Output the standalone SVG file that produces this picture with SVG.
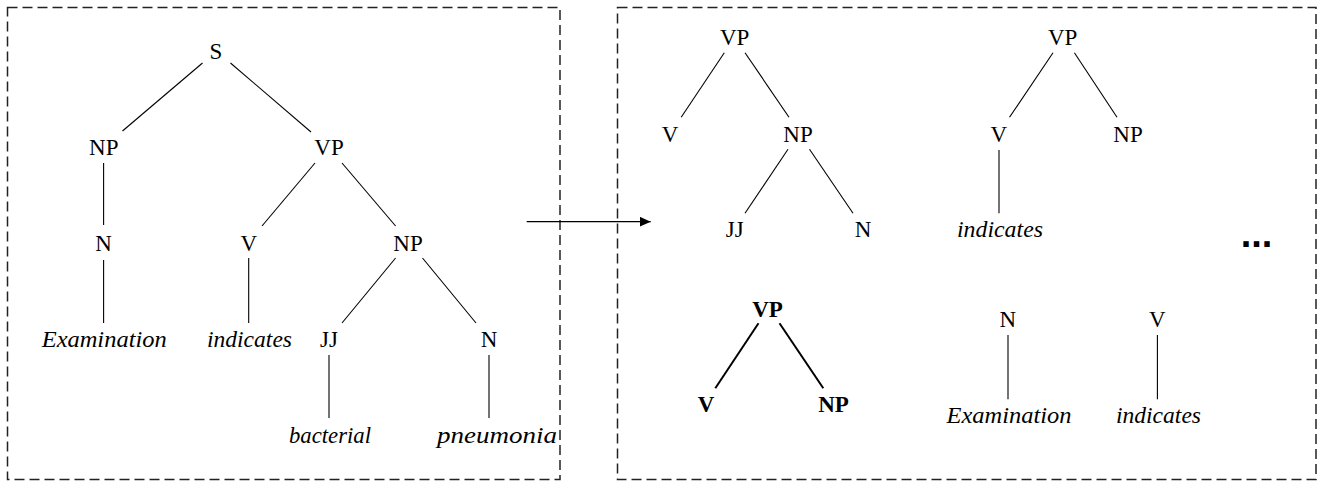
<svg xmlns="http://www.w3.org/2000/svg" width="1321" height="482" viewBox="0 0 1321 482">
<style>
text{font-family:"Liberation Serif","Times New Roman",serif;font-size:23px;fill:#000;text-anchor:middle}
.it{font-style:italic}
.b{font-weight:bold}
.frame{fill:none;stroke:#222;stroke-width:1.5;stroke-dasharray:10 5}
.e{stroke:#000;stroke-width:1.1;fill:none}
.eb{stroke:#000;stroke-width:2;fill:none}
</style>
<defs>
<marker id="ah" viewBox="0 0 11 10" refX="11" refY="5" markerWidth="11" markerHeight="10" markerUnits="userSpaceOnUse" orient="auto">
<path d="M0,0 L11,5 L0,10 Z" fill="#000"/>
</marker>
</defs>
<g id="frames">
<rect class="frame" x="7.5" y="7.5" width="552.5" height="472"/>
<rect class="frame" x="617.5" y="7.5" width="698.5" height="472"/>
</g>
<g id="connectors">
<path class="e" d="M202.5,63 L122.5,131"/>
<path class="e" d="M230.5,63 L311,132"/>
<path class="e" d="M103.6,163 L103.6,225"/>
<path class="e" d="M103.6,260 L103.6,323"/>
<path class="e" d="M315,163 L262,226"/>
<path class="e" d="M342,163 L395.6,226"/>
<path class="e" d="M248.7,258 L248.7,323"/>
<path class="e" d="M395.6,258 L342,323"/>
<path class="e" d="M422.5,258 L476,323"/>
<path class="e" d="M329,355 L329,418"/>
<path class="e" d="M489,355 L489,418"/>
<path class="e" d="M724.3,52.7 L681.2,117.3"/>
<path class="e" d="M745,52.7 L789,117.3"/>
<path class="e" d="M788,149.3 L745,213.3"/>
<path class="e" d="M809.5,149.3 L853,213.3"/>
<path class="e" d="M1053,52.7 L1009.5,117.3"/>
<path class="e" d="M1074.4,52.7 L1117,117.3"/>
<path class="e" d="M999,150 L999,213.3"/>
<path class="eb" d="M758.5,323.3 L715.3,388.3"/>
<path class="eb" d="M779.5,323.3 L823.3,388.3"/>
<path class="e" d="M1008,335 L1008,399.3"/>
<path class="e" d="M1157.4,335 L1157.4,399.3"/>
<path d="M526.7,221.7 L650.7,221.7" stroke="#000" stroke-width="1.3" marker-end="url(#ah)"/>
</g>
<g id="tree-left">
<text x="216" y="59.3">S</text>
<text x="103.8" y="155">NP</text>
<text x="329" y="155">VP</text>
<text x="103.6" y="250.7">N</text>
<text x="248.7" y="250.7">V</text>
<text x="408" y="250.7">NP</text>
<text class="it" x="104.2" y="347" textLength="125" lengthAdjust="spacingAndGlyphs">Examination</text>
<text class="it" x="249.5" y="347" textLength="85" lengthAdjust="spacingAndGlyphs">indicates</text>
<text x="329" y="347">JJ</text>
<text x="489" y="347">N</text>
<text class="it" x="330" y="443" textLength="82" lengthAdjust="spacingAndGlyphs">bacterial</text>
<text class="it" x="497" y="443" textLength="120" lengthAdjust="spacingAndGlyphs">pneumonia</text>
</g>
<g id="subtree-1">
<text x="734.7" y="45">VP</text>
<text x="670" y="141.7">V</text>
<text x="798" y="141.7">NP</text>
<text x="734.7" y="237">JJ</text>
<text x="863" y="237">N</text>
</g>
<g id="subtree-2">
<text x="1062.6" y="45">VP</text>
<text x="998.7" y="141.7">V</text>
<text x="1128" y="141.7">NP</text>
<text class="it" x="1000" y="237" textLength="86" lengthAdjust="spacingAndGlyphs">indicates</text>
</g>
<g id="subtree-3">
<text class="b" x="767.5" y="316.7">VP</text>
<text class="b" x="706" y="411.7">V</text>
<text class="b" x="833.5" y="411.7">NP</text>
</g>
<g id="subtree-4">
<text x="1007.7" y="326.7">N</text>
<text class="it" x="1009" y="423.3" textLength="125" lengthAdjust="spacingAndGlyphs">Examination</text>
</g>
<g id="subtree-5">
<text x="1157.4" y="326.7">V</text>
<text class="it" x="1158.5" y="423.3" textLength="85" lengthAdjust="spacingAndGlyphs">indicates</text>
</g>
<g id="ellipsis">
<text x="1256.5" y="247" style="font-family:'Liberation Sans',sans-serif;font-weight:bold;font-size:38px">...</text>
</g>
</svg>
